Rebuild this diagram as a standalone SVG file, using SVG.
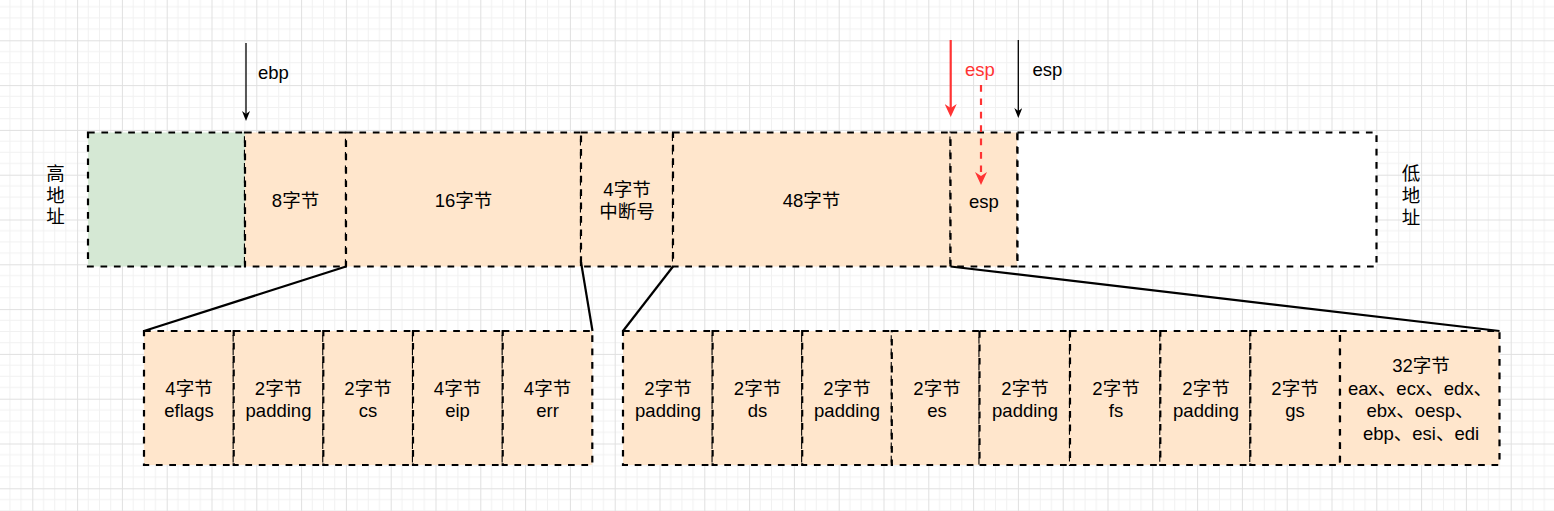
<svg xmlns="http://www.w3.org/2000/svg" width="1554" height="511" viewBox="0 0 1554 511">
<style>
.box{stroke:#000;stroke-width:2.2;stroke-dasharray:6.7 6.7;}
.o{fill:#FFE6CC;}
.g{fill:#D5E8D4;}
.w{fill:#FFFFFF;}
text{font-family:"Liberation Sans","Noto Sans CJK SC",sans-serif;font-size:18.5px;fill:#000;dominant-baseline:central;}
.c{text-anchor:middle;}
.red{fill:#FF3333;}
.conn{stroke:#000;stroke-width:2.2;fill:none;}
</style>
<defs>
<pattern id="grid" patternUnits="userSpaceOnUse" x="32.3" y="40.3" width="44.8" height="44.8">
<path d="M11.2 0V44.8M22.4 0V44.8M33.6 0V44.8M0 11.2H44.8M0 22.4H44.8M0 33.6H44.8" stroke="#f1f1f1" stroke-width="1" fill="none"/>
<path d="M0.5 0V44.8M0 0.5H44.8" stroke="#e0e0e0" stroke-width="1" fill="none"/>
</pattern>
<marker id="ab" markerUnits="userSpaceOnUse" viewBox="0 0 10 8" refX="3" refY="4" markerWidth="10" markerHeight="8" orient="auto">
<path d="M0 0L10 4L0 8L3 4Z" fill="#000"/>
</marker>
<marker id="ar" markerUnits="userSpaceOnUse" viewBox="0 0 13 12" refX="4" refY="6" markerWidth="13" markerHeight="12" orient="auto">
<path d="M0 0L13 6L0 12L4 6Z" fill="#FF3333"/>
</marker>
</defs>
<rect width="1554" height="511" fill="#fff"/>
<rect width="1554" height="511" fill="url(#grid)"/>

<g id="high-label"><text class="c" x="55.5" y="173">高</text><text class="c" x="55.5" y="195">地</text><text class="c" x="55.5" y="216">址</text></g>
<g id="low-label"><text class="c" x="1411" y="173">低</text><text class="c" x="1411" y="195">地</text><text class="c" x="1411" y="217">址</text></g>

<g id="top-green"><rect class="box g" x="88" y="132.5" width="157" height="134"/></g>
<g id="top-8"><rect class="box o" x="245" y="132.5" width="101" height="134"/><text class="c" x="295.5" y="200">8字节</text></g>
<g id="top-16"><rect class="box o" x="346" y="132.5" width="235" height="134"/><text class="c" x="463.5" y="200">16字节</text></g>
<g id="top-int"><rect class="box o" x="581" y="132.5" width="92" height="134"/><text class="c" x="627" y="189">4字节</text><text class="c" x="627" y="211">中断号</text></g>
<g id="top-48"><rect class="box o" x="673" y="132.5" width="277.5" height="134"/><text class="c" x="811.5" y="200">48字节</text></g>
<g id="top-esp"><rect class="box o" x="950.5" y="132.5" width="67" height="134"/><text class="c" x="984" y="201">esp</text></g>
<g id="top-white"><rect class="box w" x="1017.5" y="132.5" width="359" height="134"/></g>

<g id="b-eflags"><rect class="box o" x="144" y="331" width="89.7" height="134"/><text class="c" x="189" y="388">4字节</text><text class="c" x="189" y="410">eflags</text></g>
<g id="b-pad1"><rect class="box o" x="233.7" y="331" width="89.6" height="134"/><text class="c" x="278.5" y="388">2字节</text><text class="c" x="278.5" y="410">padding</text></g>
<g id="b-cs"><rect class="box o" x="323.3" y="331" width="89.7" height="134"/><text class="c" x="368" y="388">2字节</text><text class="c" x="368" y="410">cs</text></g>
<g id="b-eip"><rect class="box o" x="413" y="331" width="89.7" height="134"/><text class="c" x="457.5" y="388">4字节</text><text class="c" x="457.5" y="410">eip</text></g>
<g id="b-err"><rect class="box o" x="502.7" y="331" width="89.6" height="134"/><text class="c" x="547.5" y="388">4字节</text><text class="c" x="547.5" y="410">err</text></g>

<g id="b-pad2"><rect class="box o" x="623" y="331" width="89.6" height="134"/><text class="c" x="668" y="388">2字节</text><text class="c" x="668" y="410">padding</text></g>
<g id="b-ds"><rect class="box o" x="712.6" y="331" width="89.6" height="134"/><text class="c" x="757.5" y="388">2字节</text><text class="c" x="757.5" y="410">ds</text></g>
<g id="b-pad3"><rect class="box o" x="802.2" y="331" width="89.6" height="134"/><text class="c" x="847" y="388">2字节</text><text class="c" x="847" y="410">padding</text></g>
<g id="b-es"><rect class="box o" x="891.8" y="331" width="87.7" height="134"/><text class="c" x="937" y="388">2字节</text><text class="c" x="937" y="410">es</text></g>
<g id="b-pad4"><rect class="box o" x="979.5" y="331" width="90.5" height="134"/><text class="c" x="1025" y="388">2字节</text><text class="c" x="1025" y="410">padding</text></g>
<g id="b-fs"><rect class="box o" x="1070" y="331" width="90.3" height="134"/><text class="c" x="1116" y="388">2字节</text><text class="c" x="1116" y="410">fs</text></g>
<g id="b-pad5"><rect class="box o" x="1160.3" y="331" width="90" height="134"/><text class="c" x="1206" y="388">2字节</text><text class="c" x="1206" y="410">padding</text></g>
<g id="b-gs"><rect class="box o" x="1250.3" y="331" width="89.7" height="134"/><text class="c" x="1295" y="388">2字节</text><text class="c" x="1295" y="410">gs</text></g>
<g id="b-regs"><rect class="box o" x="1340" y="331" width="159.5" height="134"/><text class="c" x="1421" y="365">32字节</text><text class="c" x="1420" y="388">eax、ecx、edx、</text><text class="c" x="1420" y="410">ebx、oesp、</text><text class="c" x="1421" y="433">ebp、esi、edi</text></g>

<g id="pointer-labels"><text x="258" y="72">ebp</text><text class="red" x="980" y="69" text-anchor="middle">esp</text><text x="1032.5" y="69">esp</text></g>

<g id="connectors">
<path class="conn" d="M346 266.5L144 331"/>
<path class="conn" d="M581 262L592.5 331"/>
<path class="conn" d="M673 266.5L623 331"/>
<path class="conn" d="M950.5 266.5L1499.5 331"/>
<path d="M246 43V114" stroke="#000" stroke-width="1.3" marker-end="url(#ab)"/>
<path d="M1018.3 40V111" stroke="#000" stroke-width="1.3" marker-end="url(#ab)"/>
<path d="M950.7 40V108" stroke="#FF3333" stroke-width="2.2" marker-end="url(#ar)"/>
<path d="M981 85V176" stroke="#FF3333" stroke-width="2.2" stroke-dasharray="6.7 6.7" marker-end="url(#ar)"/>
</g>
</svg>
